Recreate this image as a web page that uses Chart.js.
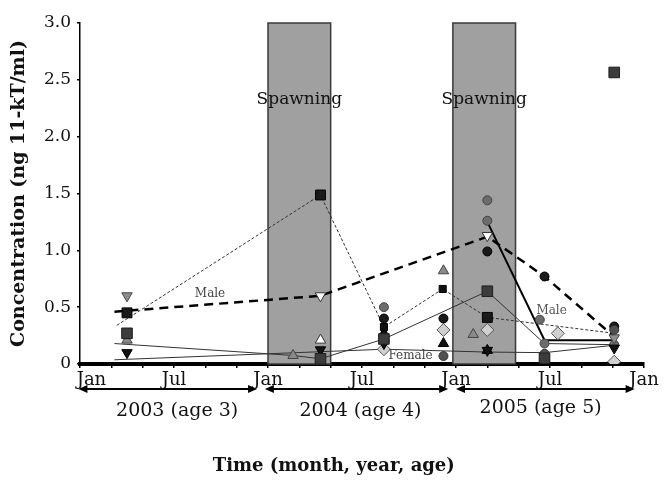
<!DOCTYPE html>
<html><head><meta charset="utf-8">
<script src="https://cdn.jsdelivr.net/npm/chart.js@4"></script>
<style>html,body{margin:0;padding:0;background:#fff}</style>
</head><body>
<canvas id="c" width="665" height="485"></canvas>
<script>
// x values: months since January 2003
const xTickMonths = [0, 6, 12, 18, 24, 30, 36];
const xTickLabels = ['Jan', 'Jul', 'Jan', 'Jul', 'Jan', 'Jul', 'Jan'];
const yTickValues = [0, 0.5, 1.0, 1.5, 2.0, 2.5, 3.0];
const yTickLabels = ['0', '0.5', '1.0', '1.5', '2.0', '2.5', '3.0'];
const spawningPeriods = [[12.0, 16.0], [23.8, 27.8]];
const spawningLabel = 'Spawning';
const yearLabels = ['2003 (age 3)', '2004 (age 4)', '2005 (age 5)'];
const yearSpans = [[-0.1, 11.3], [11.8, 23.5], [24.0, 35.4]];
const yearLabelCentres = [6.2, 17.9, 29.4];
const xTitle = 'Time (month, year, age)';

// connecting lines [month, value]
const maleMeanLine   = [[2.2, 0.46], [15.35, 0.60], [26.0, 1.12], [29.65, 0.77], [34.1, 0.24]];
const femaleMeanLine = [[2.2, 0.037], [19.4, 0.13], [26.0, 0.105], [29.65, 0.10], [34.1, 0.165]];
const fishDashedLine = [[2.35, 0.34], [15.35, 1.487], [19.4, 0.325], [23.15, 0.66], [26.0, 0.41], [34.1, 0.27]];
const fishBoldLine   = [[26.0, 1.25], [29.65, 0.21], [34.1, 0.21]];
const fishThinLine   = [[2.2, 0.18], [13.6, 0.075], [15.35, 0.046], [19.4, 0.22], [26.0, 0.64], [29.65, 0.18], [34.1, 0.17]];

// individual markers [month, value]
const invTriGrey  = [[3.0, 0.60], [34.1, 0.23], [29.65, 0.01]];
const squareBlack = [[3.0, 0.45], [15.35, 1.487], [26.0, 0.41]];
const squareSmall = [[19.4, 0.325], [23.15, 0.66]];
const squareDark  = [[3.0, 0.27], [15.35, 0.046], [19.4, 0.22], [26.0, 0.64], [29.65, 0.05], [34.1, 2.565]];
const triGrey     = [[3.0, 0.21], [13.6, 0.075], [23.2, 0.82], [25.1, 0.26]];
const invTriBlack = [[3.0, 0.10], [15.35, 0.125], [19.4, 0.18], [26.0, 0.12], [34.1, 0.14]];
const invTriOpen  = [[15.35, 0.60], [26.0, 1.13]];
const triOpen     = [[15.35, 0.21]];
const triBlack    = [[19.4, 0.27], [23.2, 0.18], [26.0, 0.12]];
const hexGrey     = [[19.4, 0.50], [26.0, 1.44], [26.0, 1.26], [29.35, 0.39], [29.65, 0.18], [34.1, 0.17]];
const hexDark     = [[23.2, 0.07], [29.65, 0.09], [34.1, 0.30]];
const circleBlack = [[19.4, 0.40], [23.2, 0.40], [26.0, 0.99], [29.65, 0.77], [34.1, 0.33]];
const diamondLight= [[19.4, 0.13], [23.2, 0.30], [26.0, 0.30], [30.5, 0.27], [34.1, 0.02]];

const lineLabels = [
  {text: 'Male', m: 8.3, v: 0.615, color: '#444'},
  {text: 'Male', m: 30.1, v: 0.47, color: '#555'},
  {text: 'Female', m: 21.1, v: 0.07, color: '#444'}
];

const pts = a => a.map(([x, y]) => ({x, y}));
const serif = '"DejaVu Serif", "Liberation Serif", serif';

function markerSet(data, style, fill, border, r, rot) {
  return {type: 'scatter', data: pts(data), showLine: false, pointStyle: style,
    pointRotation: rot || 0, pointRadius: r, pointHoverRadius: r,
    backgroundColor: fill, borderColor: border, borderWidth: 1, order: 1};
}
function lineSet(data, color, width, dash) {
  return {type: 'scatter', data: pts(data), showLine: true, pointRadius: 0,
    borderColor: color, borderWidth: width, borderDash: dash || [], fill: false, order: 5};
}

const decor = {
  id: 'decor',
  beforeDatasetsDraw(chart) {
    const {ctx, scales: {x, y}} = chart;
    ctx.save();
    spawningPeriods.forEach(([s, e]) => {
      const x0 = x.getPixelForValue(s), x1 = x.getPixelForValue(e);
      const yt = y.getPixelForValue(3), yb = y.getPixelForValue(0);
      ctx.fillStyle = '#a0a0a0';
      ctx.fillRect(x0, yt, x1 - x0, yb - yt);
      ctx.strokeStyle = '#3a3a3a'; ctx.lineWidth = 1.5;
      ctx.strokeRect(x0, yt, x1 - x0, yb - yt);
      ctx.fillStyle = '#111'; ctx.font = '17px ' + serif;
      ctx.textAlign = 'center'; ctx.textBaseline = 'middle';
      ctx.fillText(spawningLabel, (x0 + x1) / 2, y.getPixelForValue(2.325));
    });
    ctx.restore();
  },
  afterDraw(chart) {
    const {ctx, scales: {x, y}} = chart;
    ctx.save();
    lineLabels.forEach(l => {
      ctx.fillStyle = l.color; ctx.font = '12px ' + serif;
      ctx.textAlign = 'center'; ctx.textBaseline = 'middle';
      ctx.fillText(l.text, x.getPixelForValue(l.m), y.getPixelForValue(l.v));
    });
    const ay = 389;
    yearSpans.forEach(([s, e], i) => {
      const x0 = x.getPixelForValue(s), x1 = x.getPixelForValue(e);
      ctx.strokeStyle = '#000'; ctx.fillStyle = '#000'; ctx.lineWidth = 2;
      ctx.beginPath(); ctx.moveTo(x0 + 4, ay); ctx.lineTo(x1 - 4, ay); ctx.stroke();
      ctx.beginPath(); ctx.moveTo(x0, ay); ctx.lineTo(x0 + 9, ay - 4); ctx.lineTo(x0 + 9, ay + 4); ctx.closePath(); ctx.fill();
      ctx.beginPath(); ctx.moveTo(x1, ay); ctx.lineTo(x1 - 9, ay - 4); ctx.lineTo(x1 - 9, ay + 4); ctx.closePath(); ctx.fill();
      ctx.font = '19px ' + serif; ctx.textAlign = 'center'; ctx.textBaseline = 'middle';
      ctx.fillStyle = '#111';
      ctx.fillText(yearLabels[i], x.getPixelForValue(yearLabelCentres[i]), i === 2 ? 408 : 411);
    });
    ctx.font = 'bold 18px ' + serif; ctx.textAlign = 'center'; ctx.textBaseline = 'middle';
    ctx.fillStyle = '#111';
    ctx.fillText(xTitle, x.getPixelForValue(16.2), 466);
    ctx.restore();
  }
};

new Chart(document.getElementById('c'), {
  type: 'scatter',
  data: {datasets: [
    markerSet(squareBlack, 'rect', '#1a1a1a', '#000', 7),
    markerSet(squareSmall, 'rect', '#111', '#000', 5),
    markerSet(squareDark, 'rect', '#3c3c3c', '#1e1e1e', 7.5),
    markerSet(invTriGrey, 'triangle', '#8e8e8e', '#444', 6, 180),
    markerSet(triGrey, 'triangle', '#8a8a8a', '#444', 6),
    markerSet(invTriBlack, 'triangle', '#111', '#000', 6, 180),
    markerSet(invTriOpen, 'triangle', '#fff', '#333', 6, 180),
    markerSet(triOpen, 'triangle', '#fff', '#333', 6),
    markerSet(triBlack, 'triangle', '#111', '#000', 6),
    markerSet(hexGrey, 'circle', '#6c6c6c', '#444', 4.5),
    markerSet(hexDark, 'circle', '#505050', '#333', 4.5),
    markerSet(circleBlack, 'circle', '#1a1a1a', '#000', 4.5),
    markerSet(diamondLight, 'rectRot', '#d0d0d0', '#555', 6.5),
    lineSet(maleMeanLine, '#000', 2.5, [9, 6]),
    lineSet(fishDashedLine, '#333', 1, [3, 2]),
    lineSet(fishBoldLine, '#000', 2),
    lineSet(femaleMeanLine, '#333', 1),
    lineSet(fishThinLine, '#333', 1)
  ]},
  options: {
    responsive: false, animation: false,
    layout: {padding: {top: 23, right: 21, left: 0, bottom: 0}},
    plugins: {legend: {display: false}, tooltip: {enabled: false}},
    scales: {
      x: {
        type: 'linear', min: 0, max: 36,
        afterFit: s => { s.height = 121; },
        afterBuildTicks: s => { s.ticks = Array.from({length: 19}, (_, i) => ({value: i * 2})); },
        ticks: {autoSkip: false, maxRotation: 0, padding: 2, color: '#111',
          font: {family: serif, size: 18},
          callback: v => { const i = xTickMonths.indexOf(v); return i < 0 ? '' : (v === 0 ? '    ' + xTickLabels[i] : xTickLabels[i]); }},
        grid: {drawOnChartArea: false, drawTicks: true, tickLength: 4, color: '#000', lineWidth: 1.5},
        border: {color: '#000', width: 4}
      },
      y: {
        min: 0, max: 3,
        afterFit: s => { s.width = 80; },
        afterBuildTicks: s => { s.ticks = yTickValues.map(v => ({value: v})); },
        ticks: {padding: 6, color: '#111', font: {family: serif, size: 17},
          callback: v => yTickLabels[yTickValues.indexOf(v)]},
        grid: {drawOnChartArea: false, drawTicks: true, tickLength: 3, color: '#000', lineWidth: 1.5},
        border: {color: '#000', width: 1.5},
        title: {display: true, text: 'Concentration (ng 11-kT/ml)', color: '#111',
          font: {family: serif, size: 19, weight: 'bold'}, padding: {top: 8, bottom: 0}}
      }
    }
  },
  plugins: [decor]
});
</script>
</body></html>
